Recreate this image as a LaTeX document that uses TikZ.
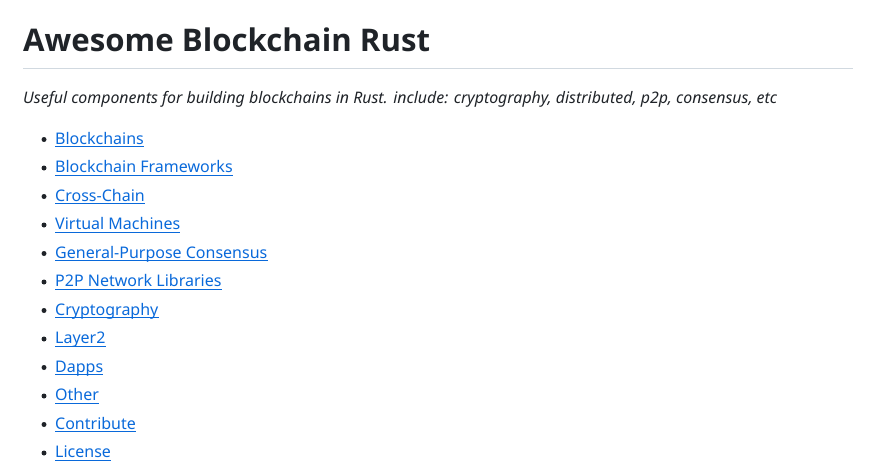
\documentclass[tikz,border=0pt]{standalone}
\usepackage{fontspec}
\setmainfont{Noto Sans}
\newfontfamily\headfont{Open Sans}
\definecolor{fgtext}{HTML}{1F2328}
\definecolor{linkblue}{HTML}{0969DA}
\definecolor{rulegray}{HTML}{D1D9E0}

\begin{document}
\begin{tikzpicture}[
		x=1pt,
		y=-1pt,
		every node/.style={
			inner sep=0pt,
			anchor=base west,
			text=fgtext,
		},
		heading/.style={
			font=\fontsize{31.2}{38}\selectfont\headfont\bfseries,
		},
		tagline/.style={
			font=\fontsize{15.9}{24}\selectfont\itshape,
		},
		entry/.style={
			font=\fontsize{16}{24}\selectfont,
			text=linkblue,
		},
		dot/.style={
			circle,
			fill=fgtext,
			minimum size=5pt,
			anchor=center,
		},
	]
		\useasboundingbox (0,0) rectangle (880,476);
		\node[heading] (title) at (23,52) {Awesome Blockchain Rust};
		\coordinate (ruleL) at (23,68.5);
		\coordinate (ruleR) at (853,68.5);
		\draw[rulegray, line width=1pt] (ruleL) -- (ruleR);
		\node[tagline] (intro) at (23,104) {Useful components for building blockchains in Rust. include: cryptography, distributed, p2p, consensus, etc};
		\foreach \txt [count=\i] in {Blockchains, Blockchain Frameworks, Cross-Chain, Virtual Machines, General-Purpose Consensus, P2P Network Libraries, Cryptography, Layer2, Dapps, Other, Contribute, License} {
			\node[entry] (item\i) at (55,{144+28.5*(\i-1)}) {\txt};
			\node[dot] (mark\i) at (44,{139.5+28.5*(\i-1)}) {};
			\draw[linkblue, line width=1pt] ([yshift=-2.5pt]item\i.base west) -- ([yshift=-2.5pt]item\i.base east);
		}
	\end{tikzpicture}
\end{document}
